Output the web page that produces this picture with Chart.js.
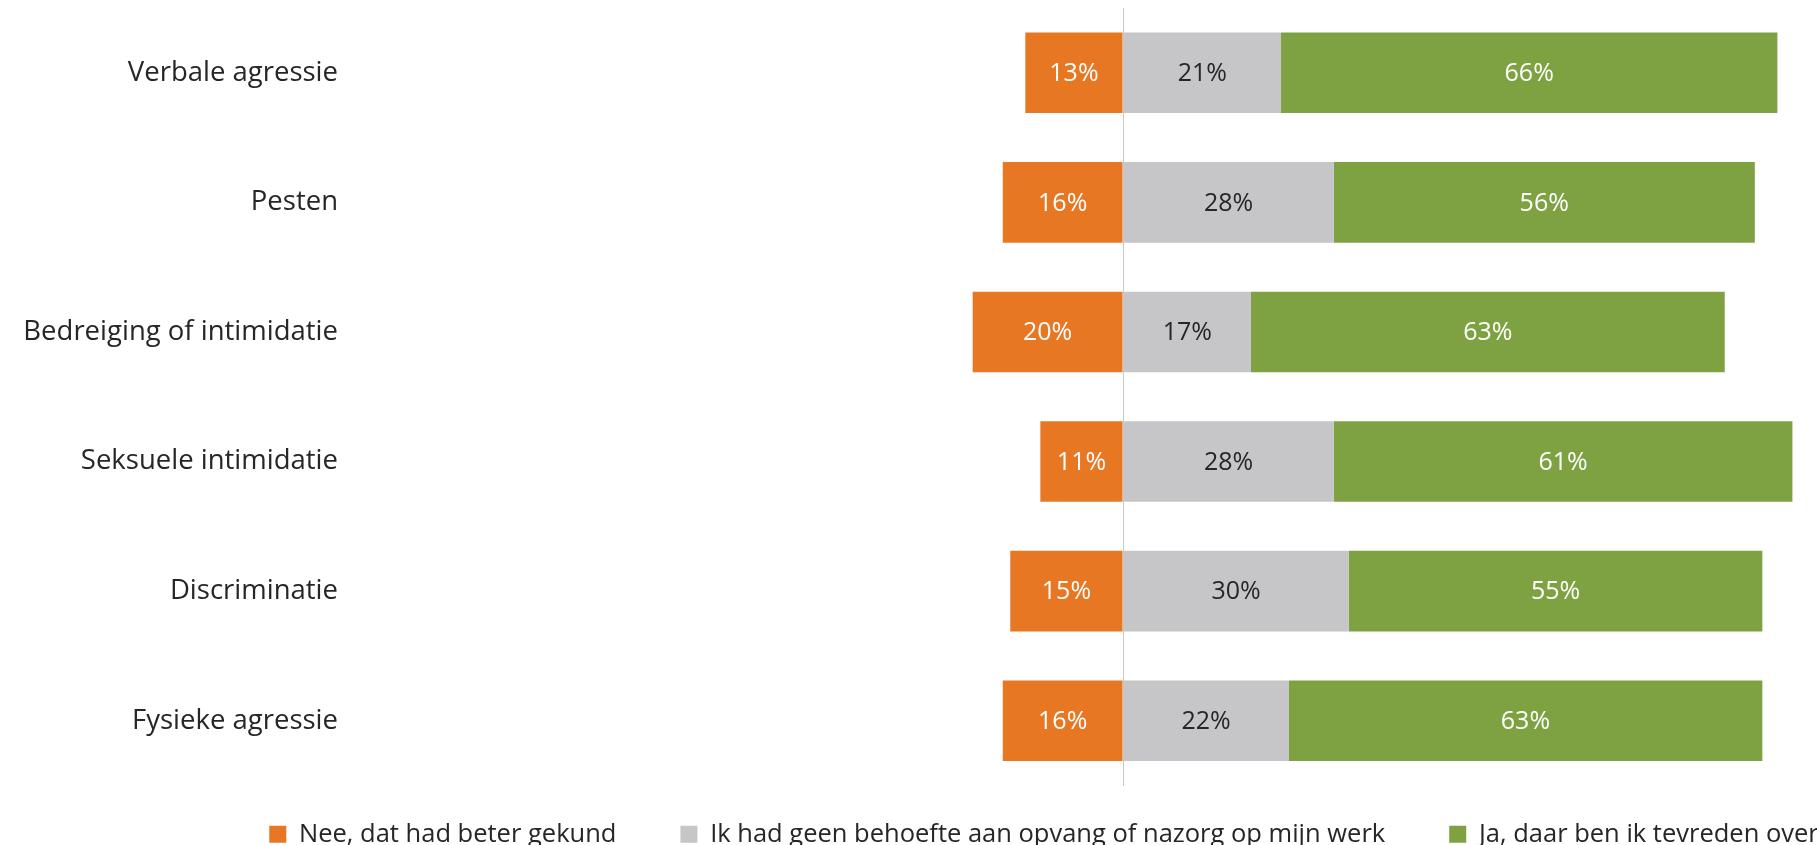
<!DOCTYPE html>
<html>
<head>
<meta charset="utf-8">
<script src="https://cdn.jsdelivr.net/npm/chart.js@4/dist/chart.umd.min.js"></script>
<style>
  html, body { margin: 0; padding: 0; background: #ffffff; overflow: hidden; }
</style>
</head>
<body>
<canvas id="grafiek" width="2088" height="885"></canvas>
<script>
var categorieen = ['Verbale agressie', 'Pesten', 'Bedreiging of intimidatie', 'Seksuele intimidatie', 'Discriminatie', 'Fysieke agressie'];
var nee = [-13, -16, -20, -11, -15, -16];
var geenBehoefte = [21, 28, 17, 28, 30, 22];
var ja = [66, 56, 63, 61, 55, 63];
var reeksNamen = ['Nee, dat had beter gekund', 'Ik had geen behoefte aan opvang of nazorg op mijn werk', 'Ja, daar ben ik tevreden over'];

var kleuren = ['#e77723', '#c6c6c8', '#7ea242'];
var labelKleuren = ['#ffffff', '#262626', '#ffffff'];
var lettertype = '"Open Sans", "DejaVu Sans", sans-serif';

// percentages in the middle of each bar piece
var waardeLabels = {
    id: 'waardeLabels',
    afterDatasetsDraw: function(chart) {
        var ctx = chart.ctx;
        ctx.save();
        ctx.font = '25px ' + lettertype;
        ctx.textAlign = 'center';
        ctx.textBaseline = 'middle';
        chart.data.datasets.forEach(function(ds, i) {
            var meta = chart.getDatasetMeta(i);
            meta.data.forEach(function(bar, j) {
                ctx.fillStyle = labelKleuren[i];
                ctx.fillText(Math.abs(ds.data[j]) + '%', (bar.x + bar.base) / 2, bar.y + 1);
            });
        });
        ctx.restore();
    }
};

// legend sits a bit closer to the bars than its padding allows
var legendaOmhoog = {
    id: 'legendaOmhoog',
    afterLayout: function(chart) {
        if (chart.legend) {
            chart.legend.top -= 28;
            chart.legend.bottom -= 28;
        }
    }
};

function maakDataset(naam, data, kleur) {
    return {
        label: naam,
        data: data,
        backgroundColor: kleur,
        borderWidth: 0,
        categoryPercentage: 1,
        barPercentage: 0.622
    };
}

var config = {
    type: 'bar',
    data: {
        labels: categorieen,
        datasets: [
            maakDataset(reeksNamen[0], nee, kleuren[0]),
            maakDataset(reeksNamen[1], geenBehoefte, kleuren[1]),
            maakDataset(reeksNamen[2], ja, kleuren[2])
        ]
    },
    options: {
        indexAxis: 'y',
        responsive: false,
        animation: false,
        layout: {
            padding: { top: 8, left: 0, right: 0, bottom: 0 }
        },
        scales: {
            x: {
                stacked: true,
                min: -100.4,
                max: 128.3,
                border: { display: false },
                ticks: { display: false, stepSize: 10 },
                grid: {
                    drawTicks: false,
                    lineWidth: 1,
                    color: function(c) {
                        return c.tick && c.tick.value === 0 ? '#c8c8c8' : 'rgba(0,0,0,0)';
                    }
                },
                afterBuildTicks: function(scale) {
                    scale.ticks = [{ value: 0 }];
                },
                afterFit: function(scale) { scale.height = 0; }
            },
            y: {
                stacked: true,
                border: { display: false },
                grid: { display: false, drawTicks: false },
                ticks: {
                    padding: 30,
                    color: '#262626',
                    font: { family: lettertype, size: 27.5 }
                },
                afterFit: function(scale) {
                    scale.width = 368;
                    scale.paddingTop = 0;
                    scale.paddingBottom = 0;
                }
            }
        },
        plugins: {
            tooltip: { enabled: false },
            legend: {
                position: 'bottom',
                align: 'center',
                labels: {
                    boxWidth: 17,
                    boxHeight: 17,
                    padding: 64,
                    color: '#262626',
                    font: { family: lettertype, size: 25.5 }
                }
            }
        }
    },
    plugins: [waardeLabels, legendaOmhoog]
};

var grafiek = new Chart(document.getElementById('grafiek'), config);
</script>
</body>
</html>
